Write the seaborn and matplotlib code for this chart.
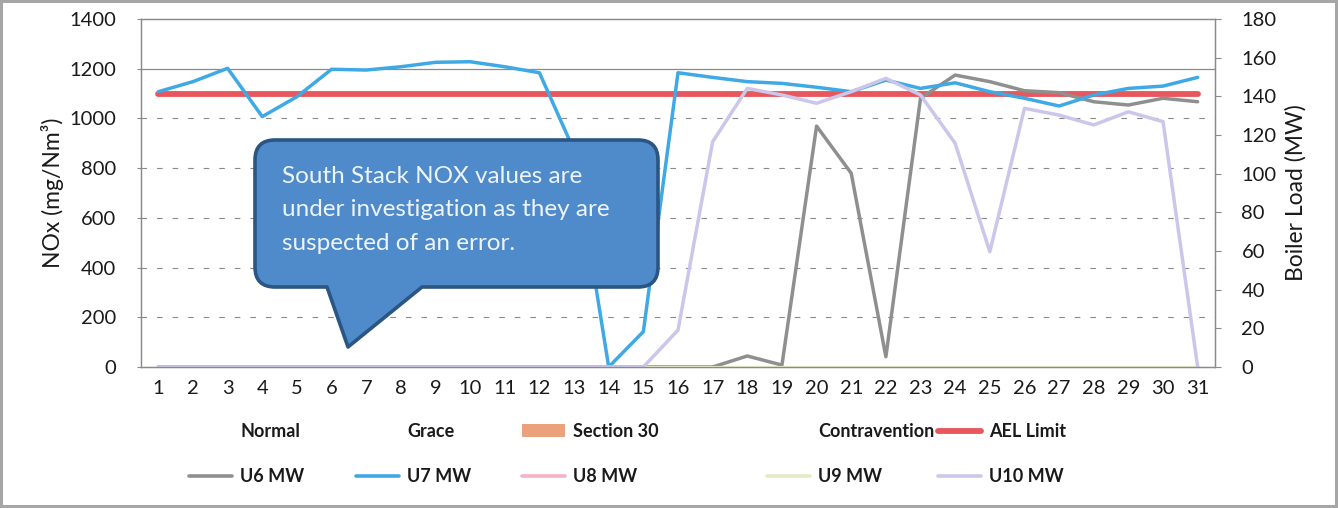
import matplotlib
matplotlib.use("Agg")
import matplotlib.pyplot as plt
import seaborn as sns
from matplotlib.lines import Line2D
from matplotlib.patches import Patch, PathPatch
from matplotlib.path import Path

# ---------------- data ----------------
days = [1, 2, 3, 4, 5, 6, 7, 8, 9, 10, 11, 12, 13, 14, 15, 16,
        17, 18, 19, 20, 21, 22, 23, 24, 25, 26, 27, 28, 29, 30, 31]
ael_limit = [1100, 1100, 1100, 1100, 1100, 1100, 1100, 1100, 1100, 1100, 1100,
             1100, 1100, 1100, 1100, 1100, 1100, 1100, 1100, 1100, 1100, 1100,
             1100, 1100, 1100, 1100, 1100, 1100, 1100, 1100, 1100]
u6_mw = [0, 0, 0, 0, 0, 0, 0, 0, 0, 0, 0, 0, 0, 0, 0, 0, 0,
         5.7, 1.0, 124.6, 100.2, 5.3, 139.0, 151.0, 147.6, 142.9, 141.9,
         137.2, 135.5, 139.0, 137.2]
u7_mw = [142.4, 147.6, 154.5, 129.5, 139.8, 154.0, 153.6, 155.3, 157.6, 157.9,
         155.3, 152.2, 112.0, 0.0, 18.3, 152.2, 149.8, 147.6, 146.7, 144.7,
         142.4, 148.4, 144.1, 147.0, 142.4, 139.0, 135.0, 140.7, 144.1, 145.3,
         149.8]
u8_mw = [0, 0, 0, 0, 0, 0, 0, 0, 0, 0, 0, 0, 0, 0, 0, 0,
         0, 0, 0, 0, 0, 0, 0, 0, 0, 0, 0, 0, 0, 0, 0]
u9_mw = [0, 0, 0, 0, 0, 0, 0, 0, 0, 0, 0, 0, 0, 0, 0, 0,
         0, 0, 0, 0, 0, 0, 0, 0, 0, 0, 0, 0, 0, 0, 0]
u10_mw = [0, 0, 0, 0, 0, 0, 0, 0, 0, 0, 0, 0, 0, 0, 0,
          19.1, 116.5, 144.1, 140.7, 136.4, 142.4, 149.3, 140.7, 115.7, 59.6,
          133.8, 130.3, 125.2, 132.0, 126.9, 0]

nox_ticks = [0, 200, 400, 600, 800, 1000, 1200, 1400]
mw_ticks = [0, 20, 40, 60, 80, 100, 120, 140, 160, 180]
callout_text = ("South Stack NOX values are\n"
                "under investigation as they are\n"
                "suspected of an error.")

# ---------------- style ----------------
sns.set_style("white")
plt.rcParams["font.family"] = ["Lato", "DejaVu Sans"]

W, H = 1338, 508
fig = plt.figure(figsize=(W / 100, H / 100), dpi=100)
fig.patch.set_facecolor("white")
fig.patch.set_edgecolor("#a6a6a6")
fig.patch.set_linewidth(4)

ax = fig.add_axes([141 / W, 1 - 367 / H, (1215 - 141) / W, (367 - 19) / H])
ax2 = ax.twinx()

c_text = "#1a1a1a"
c_grid = "#8a8a8a"

# gridlines (left axis)
for v in nox_ticks[1:6]:
    ax.axhline(v, color=c_grid, lw=0.8, ls=(0, (5, 9)), zorder=0)
ax.axhline(1200, color=c_grid, lw=0.9, zorder=0)

# AEL limit on primary axis
sns.lineplot(x=days, y=ael_limit, ax=ax, color="#e8575c", lw=4.2, zorder=2)

# MW series on secondary axis
series = [
    (u6_mw, "#8f8f8f", 2.5),
    (u7_mw, "#3fa9e6", 2.5),
    (u8_mw, "#f3b3c3", 2.2),
    (u9_mw, "#e2ebc6", 2.2),
    (u10_mw, "#cbc6ea", 2.5),
]
for vals, col, lw in series:
    sns.lineplot(x=days, y=vals, ax=ax2, color=col, lw=lw)

# axes limits / ticks
ax.set_xlim(0.5, 31.5)
ax.set_ylim(0, 1400)
ax2.set_ylim(0, 180)
ax.set_xticks(days)
ax.set_xticklabels([str(d) for d in days])
ax.set_yticks(nox_ticks)
ax2.set_yticks(mw_ticks)

for a in (ax, ax2):
    for s in a.spines.values():
        s.set_color("#8a8a8a")
        s.set_linewidth(0.9)
ax.spines["top"].set_color("#9a9a9a")

ax.tick_params(axis="x", labelsize=14.5, colors=c_text, length=3, width=0.8,
               pad=6, color="#8a8a8a")
ax.tick_params(axis="y", labelsize=14.5, colors=c_text, length=3, width=0.8,
               pad=15, color="#8a8a8a")
ax2.tick_params(axis="y", labelsize=14.5, colors=c_text, length=4, width=0.8,
                pad=15, color="#8a8a8a")

ax.set_ylabel("NOx (mg/Nm³)", fontsize=16.5, color=c_text, labelpad=4)
ax2.set_ylabel("Boiler Load (MW)", fontsize=16.5, color=c_text, labelpad=6)
ax.set_xlabel("")

# ---------------- callout ----------------
def P(x, y):
    return (x / W, 1 - y / H)

x0, x1, yt, yb, r = 255, 658, 140, 287, 20
tl, tr, tip = 327, 422, (348, 347)
verts = [P(x0 + r, yt), P(x1 - r, yt), P(x1, yt), P(x1, yt + r),
         P(x1, yb - r), P(x1, yb), P(x1 - r, yb),
         P(tr, yb), P(*tip), P(tl, yb),
         P(x0 + r, yb), P(x0, yb), P(x0, yb - r),
         P(x0, yt + r), P(x0, yt), P(x0 + r, yt), P(x0 + r, yt)]
codes = [Path.MOVETO, Path.LINETO, Path.CURVE3, Path.CURVE3,
         Path.LINETO, Path.CURVE3, Path.CURVE3,
         Path.LINETO, Path.LINETO, Path.LINETO,
         Path.LINETO, Path.CURVE3, Path.CURVE3,
         Path.LINETO, Path.CURVE3, Path.CURVE3, Path.CLOSEPOLY]
callout = PathPatch(Path(verts, codes), transform=fig.transFigure,
                    facecolor="#4f8bcb", edgecolor="#2b5583", lw=2.6,
                    joinstyle="round", zorder=10)
fig.add_artist(callout)
fig.text(282 / W, 1 - 210 / H, callout_text, fontsize=17.5, color="#eef4fb",
         ha="left", va="center", linespacing=1.72, zorder=11)

# ---------------- legend ----------------
blank = Line2D([], [], color="none")
columns = [
    (240, [(blank, "Normal"), (Line2D([], [], color="#8f8f8f", lw=2.6), "U6 MW")]),
    (407, [(blank, "Grace"), (Line2D([], [], color="#3fa9e6", lw=2.6), "U7 MW")]),
    (573, [(Patch(facecolor="#eba27c", edgecolor="none"), "Section 30"),
           (Line2D([], [], color="#f3b3c3", lw=2.6), "U8 MW")]),
    (818, [(blank, "Contravention"), (Line2D([], [], color="#e2ebc6", lw=2.6), "U9 MW")]),
    (989, [(Line2D([], [], color="#e8575c", lw=4.2), "AEL Limit"),
           (Line2D([], [], color="#cbc6ea", lw=2.6), "U10 MW")]),
]
fs_leg = 13
for tx, entries in columns:
    hx = tx - 8 - 43
    leg = fig.legend([e[0] for e in entries], [e[1] for e in entries],
                     loc="upper left", bbox_to_anchor=(hx / W, 1 - 423 / H),
                     frameon=False, ncol=1,
                     handlelength=43 / (fs_leg * 100 / 72),
                     handletextpad=8 / (fs_leg * 100 / 72),
                     borderpad=0, borderaxespad=0, labelspacing=1.55,
                     prop={"weight": "bold", "size": fs_leg})
    for t in leg.get_texts():
        t.set_color(c_text)

fig.savefig("out.png", dpi=100, facecolor="white", edgecolor=fig.patch.get_edgecolor())
